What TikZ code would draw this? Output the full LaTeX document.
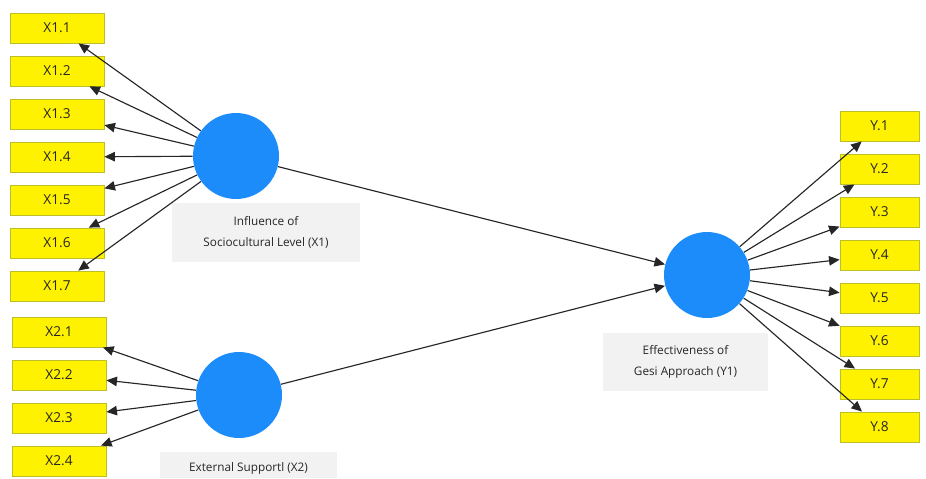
\documentclass[tikz,border=0pt]{standalone}
\usepackage{fontspec}
\setmainfont{Open Sans}
\usetikzlibrary{arrows.meta,positioning}
\definecolor{lvblue}{RGB}{28,140,250}
\definecolor{boxedge}{RGB}{190,190,40}
\tikzset{
  ind/.style={draw=boxedge,fill=yellow,line width=0.5pt,minimum width=1.88cm,minimum height=0.6cm,inner sep=0pt,text=black!85,font=\fontsize{7.8}{9}\selectfont},
  indy/.style={ind,minimum width=1.58cm},
  lv/.style={circle,fill=lvblue,minimum size=1.72cm,inner sep=0pt},
  lvtext/.style={fill=black!5,text=black!85,align=center,inner sep=0pt,font=\fontsize{6.7}{12.4}\selectfont},
  path/.style={draw=black!85,line width=0.65pt,-{Triangle[length=6pt,width=5.4pt]}}
}
\begin{document}
\begin{tikzpicture}[x=0.02cm,y=-0.02cm]
\useasboundingbox (0,0) rectangle (926,478);
% latent variables
\node (LX1) at (236,156) [lv] {};
\node (LX2) at (239,395) [lv] {};
\node (LY1) at (707,275) [lv] {};
\node (tX1) at (266,232.5) [lvtext,minimum width=3.76cm,minimum height=1.18cm] {Influence of\\Sociocultural Level (X1)};
\node (tY1) at (685.5,362) [lvtext,minimum width=3.3cm,minimum height=1.16cm] {Effectiveness of\\Gesi Approach (Y1)};
\fill[black!5] (160,452) rectangle (337,478);
\node (tX2) at (248.5,468) [text=black!85,font=\fontsize{6.7}{8}\selectfont] {External Supportl (X2)};
% indicators of X1
\node (x11) at (57,28) [ind] {X1.1};
\node (x12) at (57,71) [ind] {X1.2};
\node (x13) at (57,114) [ind] {X1.3};
\node (x14) at (57,157) [ind] {X1.4};
\node (x15) at (57,200) [ind] {X1.5};
\node (x16) at (57,243) [ind] {X1.6};
\node (x17) at (57,286) [ind] {X1.7};
% indicators of X2
\node (x21) at (59,332) [ind] {X2.1};
\node (x22) at (59,375) [ind] {X2.2};
\node (x23) at (59,418) [ind] {X2.3};
\node (x24) at (59,461) [ind] {X2.4};
% indicators of Y1
\node (y1) at (879.5,126) [indy] {Y.1};
\node (y2) at (879.5,169) [indy] {Y.2};
\node (y3) at (879.5,212) [indy] {Y.3};
\node (y4) at (879.5,255) [indy] {Y.4};
\node (y5) at (879.5,298) [indy] {Y.5};
\node (y6) at (879.5,341) [indy] {Y.6};
\node (y7) at (879.5,384) [indy] {Y.7};
\node (y8) at (879.5,427) [indy] {Y.8};
% loadings
\foreach \i in {x11,x12,x13,x14,x15,x16,x17} \draw[path] (LX1) -- (\i);
\foreach \i in {x21,x22,x23,x24} \draw[path] (LX2) -- (\i);
\foreach \i in {y1,y2,y3,y4,y5,y6,y7,y8} \draw[path] (LY1) -- (\i);
% structural paths
\draw[path] (LX1) -- (LY1);
\draw[path] (LX2) -- (LY1);
\end{tikzpicture}
\end{document}
